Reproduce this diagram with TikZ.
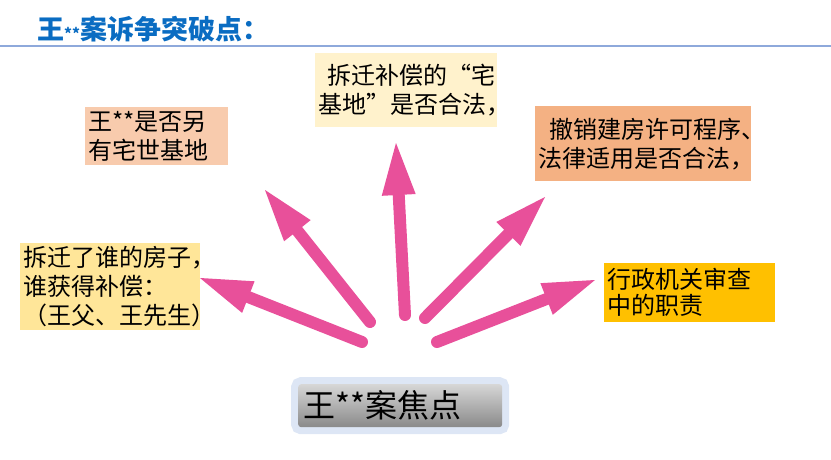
\documentclass[tikz,border=0pt]{standalone}
\usepackage{fontspec}
\setmainfont{Noto Sans CJK SC}
\usetikzlibrary{arrows.meta,positioning}
\definecolor{titleblue}{HTML}{0A6CC2}
\definecolor{ruleblue}{HTML}{8EA9DB}
\definecolor{focuspink}{HTML}{E8509A}
\definecolor{boxcream}{HTML}{FFF2CC}
\definecolor{boxpeach}{HTML}{F8CBAD}
\definecolor{boxsalmon}{HTML}{F4B183}
\definecolor{boxsand}{HTML}{FFE699}
\definecolor{boxamber}{HTML}{FFC000}
\definecolor{glowblue}{HTML}{DDE6F5}

\begin{document}
\begin{tikzpicture}[x=1pt, y=-1pt,
    pointbox/.style={anchor=north west, inner xsep=3pt, inner ysep=0pt, align=left, font=\fontsize{24}{29}\selectfont},
    focusarrow/.style={draw=focuspink, line width=12pt, line cap=round, -{Triangle[width=34pt, length=52pt, line width=0pt]}}]
    \useasboundingbox (0,0) rectangle (831,460);

    % heading
    \node[anchor=west, inner sep=0pt, text=titleblue, font=\fontsize{27}{32}\selectfont\bfseries] (title) at (37,29) {王{\fontsize{15}{15}\selectfont **}案诉争突破点：};
    \coordinate (ruleL) at (0,46);
    \coordinate (ruleR) at (831,46);
    \draw[ruleblue, line width=1.5pt] (ruleL) -- (ruleR);

    % points in dispute
    \node[pointbox, fill=boxcream, text width=176pt, minimum height=74pt] (site) at (315,53) {\hspace*{0.4em}拆迁补偿的“宅\\基地”是否合法，};
    \node[pointbox, fill=boxpeach, text width=137pt, minimum height=58pt] (other) at (85,107) {王**是否另\\有宅世基地};
    \node[pointbox, fill=boxsalmon, text width=210pt, minimum height=75pt] (permit) at (535,106) {\hspace*{0.45em}撤销建房许可程序、\\法律适用是否合法，};
    \node[pointbox, fill=boxsand, text width=174pt, minimum height=87pt, font=\fontsize{24}{29}\selectfont] (whose) at (20,243) {拆迁了谁的房子，\\谁获得补偿：\\（王父、王先生）};
    \node[pointbox, fill=boxamber, text width=165pt, minimum height=59pt, font=\fontsize{24}{26}\selectfont] (duty) at (604,263) {行政机关审查\\中的职责};

    % focus
    \node[anchor=north west, minimum width=204pt, minimum height=43pt, text width=194pt, align=left, inner xsep=5pt,
        rounded corners=3pt, top color=black!16, bottom color=black!46, font=\fontsize{32}{36}\selectfont,
        preaction={draw=glowblue, line width=14pt}] (focus) at (298,384) {王**案焦点};

    % arrows
    \coordinate (from1) at (362,342);
    \coordinate (to1) at (200,278);
    \coordinate (from2) at (370,322);
    \coordinate (to2) at (265,190);
    \coordinate (from3) at (405,315);
    \coordinate (to3) at (396,143);
    \coordinate (from4) at (425,318);
    \coordinate (to4) at (545,197);
    \coordinate (from5) at (437,342);
    \coordinate (to5) at (595,280);
    \draw[focusarrow] (from1) -- (to1);
    \draw[focusarrow] (from2) -- (to2);
    \draw[focusarrow] (from3) -- (to3);
    \draw[focusarrow] (from4) -- (to4);
    \draw[focusarrow] (from5) -- (to5);
\end{tikzpicture}
\end{document}
